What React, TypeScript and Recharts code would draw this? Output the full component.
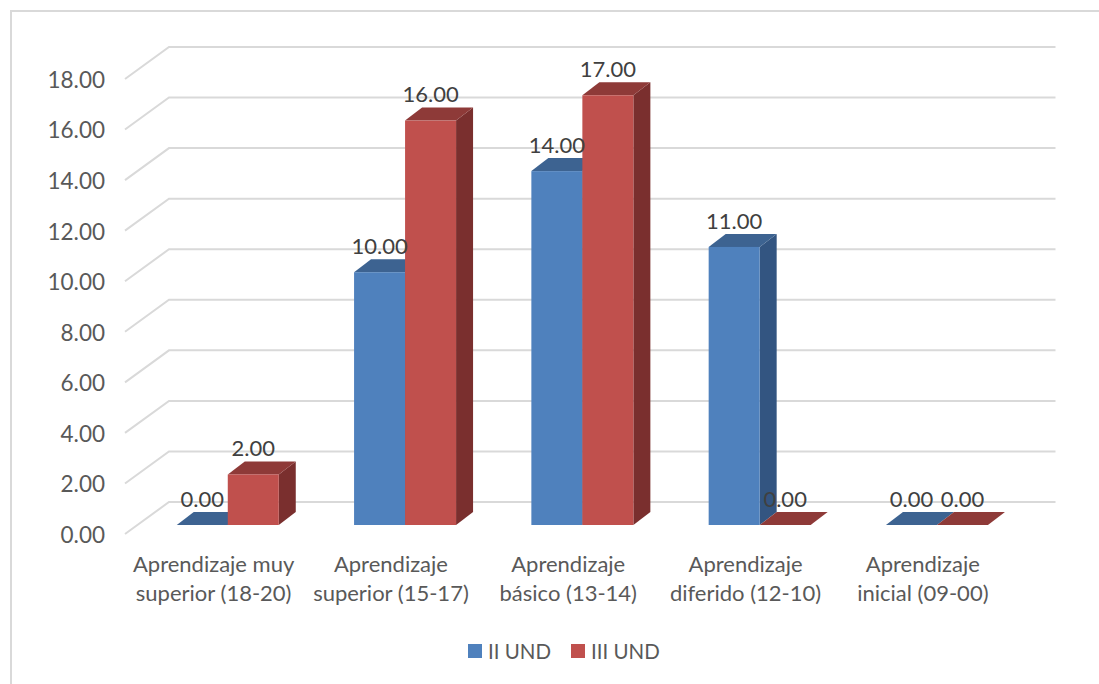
import { BarChart, Bar, XAxis, YAxis, CartesianGrid, Legend, LabelList } from 'recharts';

const categories = [
  'Aprendizaje muy\nsuperior (18-20)',
  'Aprendizaje\nsuperior (15-17)',
  'Aprendizaje\nbásico (13-14)',
  'Aprendizaje\ndiferido (12-10)',
  'Aprendizaje\ninicial (09-00)'
];
const seriesII = [0, 10, 14, 11, 0];
const seriesIII = [2, 16, 17, 0, 0];
const yTicks = [0, 2, 4, 6, 8, 10, 12, 14, 16, 18];

const data = categories.map((name, i) => ({
  name,
  ii: seriesII[i],
  iii: seriesIII[i]
}));

const FONT = 'Lato, "Open Sans", sans-serif';
const GRID = '#D9D9D9';
const AXIS_TEXT = '#595959';
const LABEL_TEXT = '#404040';
const DEPTH_X = 17;
const DEPTH_Y = 13;

// 3D column: front face, then top and right side as parallelograms
function makeColumn(front: string, top: string, side: string) {
  return function Column(props: any) {
    const { x, y, width, height } = props;
    const r = x + width;
    const b = y + height;
    return (
      <g>
        <path d={`M${r} ${y}L${r + DEPTH_X} ${y - DEPTH_Y}L${r + DEPTH_X} ${b - DEPTH_Y}L${r} ${b}Z`} fill={side} />
        <path d={`M${x} ${y}L${x + DEPTH_X} ${y - DEPTH_Y}L${r + DEPTH_X} ${y - DEPTH_Y}L${r} ${y}Z`} fill={top} />
        {height > 0 && <rect x={x} y={y} width={width} height={height} fill={front} />}
      </g>
    );
  };
}

const BlueColumn = makeColumn('#4F81BD', '#3D6391', '#335581');
const RedColumn = makeColumn('#C0504D', '#8E3A38', '#7A2F2E');

function WallLine(props: any) {
  const { x1, x2, y1 } = props;
  return (
    <path
      d={`M${x1 - 14} ${y1 + 9}L${x1 + 30} ${y1 - 23}L${x2 + 30} ${y1 - 23}`}
      fill="none"
      stroke={GRID}
      strokeWidth={2}
    />
  );
}

function YTick(props: any) {
  const { x, y, payload } = props;
  return (
    <text x={x - 26} y={y + 10} dy="0.35em" textAnchor="end" fontSize={22.5} fontFamily={FONT} fill={AXIS_TEXT}>
      {payload.value.toFixed(2)}
    </text>
  );
}

function XTick(props: any) {
  const { x, y, payload } = props;
  const lines = String(payload.value).split('\n');
  return (
    <text textAnchor="middle" fontSize={22} fontFamily={FONT} fill={AXIS_TEXT}>
      {lines.map((line, i) => (
        <tspan key={line} x={x - 14} y={y + 39 + i * 29}>
          {line}
        </tspan>
      ))}
    </text>
  );
}

function ValueLabel(props: any) {
  const { x, y, width, value } = props;
  return (
    <text x={x + width / 2} y={y - 26} dy="0.35em" textAnchor="middle" fontSize={22} fontFamily={FONT} fill={LABEL_TEXT}>
      {Number(value).toFixed(2)}
    </text>
  );
}

function ChartLegend({ payload }: any) {
  return (
    <div style={{ display: 'flex', alignItems: 'center', height: 26, paddingLeft: 468, fontFamily: FONT, fontSize: 20.5, color: AXIS_TEXT }}>
      {(payload || []).map((item: any) => (
        <div key={item.value} style={{ display: 'flex', alignItems: 'center', marginRight: 20 }}>
          <span style={{ width: 14, height: 14, background: item.color, marginRight: 6 }} />
          {item.value}
        </div>
      ))}
    </div>
  );
}

export default function App() {
  return (
    <div style={{ position: 'absolute', left: 0, top: 0, width: 1099, height: 684, background: '#fff' }}>
      <div
        style={{
          position: 'absolute',
          left: 10,
          top: 10,
          width: 1089,
          height: 674,
          borderLeft: `2px solid ${GRID}`,
          borderTop: `2px solid ${GRID}`,
          boxSizing: 'border-box'
        }}
      />
      <BarChart
        width={1099}
        height={684}
        data={data}
        barGap={0}
        barCategoryGap="21.3%"
        margin={{ top: 70, right: 73.5, bottom: 103, left: 104 }}
        style={{ position: 'absolute', left: 0, top: 0 }}
      >
        <CartesianGrid vertical={false} horizontal={(p: any) => <WallLine key={p.y1} {...p} />} />
        <XAxis dataKey="name" axisLine={false} tickLine={false} interval={0} tick={XTick} />
        <YAxis domain={[0, 18]} ticks={yTicks} axisLine={false} tickLine={false} width={35} tick={YTick} />
        <Bar dataKey="ii" name="II UND" fill="#4F81BD" shape={BlueColumn} isAnimationActive={false}>
          <LabelList dataKey="ii" content={ValueLabel} />
        </Bar>
        <Bar dataKey="iii" name="III UND" fill="#C0504D" shape={RedColumn} isAnimationActive={false}>
          <LabelList dataKey="iii" content={ValueLabel} />
        </Bar>
        <Legend
          content={ChartLegend}
          verticalAlign="bottom"
          wrapperStyle={{ left: 0, width: 1099, bottom: 20 }}
        />
      </BarChart>
    </div>
  );
}
